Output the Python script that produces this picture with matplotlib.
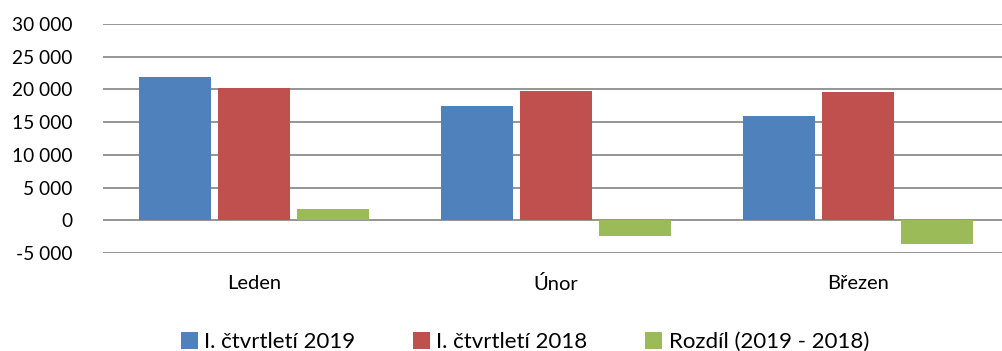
import numpy as np
import matplotlib
matplotlib.use("Agg")
import matplotlib.pyplot as plt
from matplotlib.ticker import FuncFormatter, MultipleLocator

plt.rcParams['font.family'] = ['Lato', 'DejaVu Sans']

mesice = ["Leden", "Únor", "Březen"]
q1_2019 = [21900, 17450, 16000]
q1_2018 = [20150, 19800, 19570]
rozdil = [1750, -2350, -3570]

serie = [
    ("I. čtvrtletí 2019", q1_2019, "#4F81BD"),
    ("I. čtvrtletí 2018", q1_2018, "#C0504D"),
    ("Rozdíl (2019 - 2018)", rozdil, "#9BBB59"),
]

fig = plt.figure(figsize=(10.02, 3.51), dpi=100)
ax = fig.add_axes([103 / 1002, 1 - 253 / 351, 906 / 1002, 229 / 351])

x = np.arange(len(mesice))
krok = 0.2616
sirka = 0.238
for i, (nazev, hodnoty, barva) in enumerate(serie):
    ax.bar(x + (i - 1) * krok, hodnoty, width=sirka, color=barva,
           label=nazev, zorder=3)

ax.set_xlim(-0.5, 2.5)
ax.set_ylim(-5000, 30000)
ax.yaxis.set_major_locator(MultipleLocator(5000))
ax.yaxis.set_major_formatter(
    FuncFormatter(lambda v, p: f"{int(v):,}".replace(",", " ")))
ax.grid(axis="y", color="#8c8c8c", linewidth=1.3, zorder=0)
ax.set_axisbelow(True)
for s in ax.spines.values():
    s.set_visible(False)

ax.set_xticks(x)
ax.set_xticklabels(mesice)
ax.tick_params(axis="both", length=0, labelsize=14.5, colors="black")
ax.tick_params(axis="y", pad=22, labelsize=13.8)
ax.tick_params(axis="x", pad=16)

fig.legend(loc="center", bbox_to_anchor=(0.524, 0.025), ncol=3,
           frameon=False, fontsize=16, handlelength=0.75, handleheight=0.75,
           handletextpad=0.3, columnspacing=2.6)

fig.savefig("out.png", dpi=100)
